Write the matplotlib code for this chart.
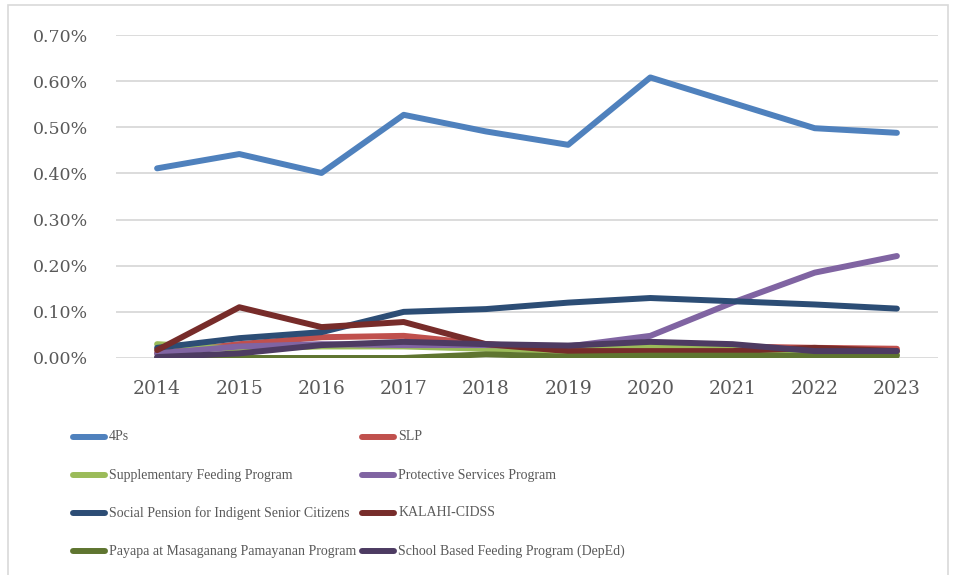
import matplotlib
matplotlib.use("Agg")
import matplotlib.pyplot as plt
from matplotlib.lines import Line2D
from matplotlib.patches import Rectangle
from matplotlib.ticker import PercentFormatter

plt.rcParams["font.family"] = ["DejaVu Serif"]

# ---- data (values in percent) ----
years = [2014, 2015, 2016, 2017, 2018, 2019, 2020, 2021, 2022, 2023]
fourps       = [0.411, 0.442, 0.401, 0.527, 0.491, 0.462, 0.608, 0.553, 0.498, 0.488]
slp          = [0.010, 0.030, 0.045, 0.048, 0.030, 0.020, 0.025, 0.025, 0.022, 0.020]
supp_feed    = [0.030, 0.020, 0.025, 0.025, 0.020, 0.015, 0.025, 0.020, 0.010, 0.008]
protective   = [0.010, 0.025, 0.030, 0.028, 0.028, 0.025, 0.048, 0.120, 0.185, 0.221]
soc_pension  = [0.022, 0.043, 0.056, 0.100, 0.106, 0.120, 0.130, 0.123, 0.116, 0.107]
kalahi       = [0.017, 0.110, 0.067, 0.078, 0.030, 0.015, 0.015, 0.015, 0.022, 0.015]
payapa       = [0.000, 0.000, 0.000, 0.000, 0.008, 0.003, 0.005, 0.005, 0.005, 0.005]
school_feed  = [0.002, 0.010, 0.028, 0.035, 0.030, 0.027, 0.035, 0.030, 0.015, 0.015]

series = [
    ("4Ps", fourps, "#4F81BD"),
    ("SLP", slp, "#C0504D"),
    ("Supplementary Feeding Program", supp_feed, "#9BBB59"),
    ("Protective Services Program", protective, "#8064A2"),
    ("Social Pension for Indigent Senior Citizens", soc_pension, "#2C4D75"),
    ("KALAHI-CIDSS", kalahi, "#772C2A"),
    ("Payapa at Masaganang Pamayanan Program", payapa, "#5F7530"),
    ("School Based Feeding Program (DepEd)", school_feed, "#4D3B62"),
]

TXT = "#595959"
W, H = 957, 575

fig = plt.figure(figsize=(W / 100, H / 100), dpi=100)
ax = fig.add_axes([116 / W, 1 - 358 / H, 822 / W, 323 / H])

x = list(range(len(years)))
for name, vals, col in series:
    ax.plot(x, vals, color=col, lw=4.3, solid_capstyle="round",
            solid_joinstyle="round", label=name)

ax.set_xlim(-0.5, len(years) - 0.5)
ax.set_ylim(0, 0.70)
ax.set_yticks([i / 10 for i in range(8)])
ax.yaxis.set_major_formatter(PercentFormatter(decimals=2))
ax.set_xticks(x)
ax.set_xticklabels([str(y) for y in years])
ax.grid(axis="y", color="#D9D9D9", lw=1.3)
ax.set_axisbelow(True)
for s in ax.spines.values():
    s.set_visible(False)
ax.tick_params(axis="both", length=0, colors=TXT, labelsize=12.5)
ax.tick_params(axis="x", labelsize=13.5, pad=16)
ax.tick_params(axis="y", pad=20)

# legend: two columns filled row-wise; first column placed, then the second
# column starts just after the widest first-column label
renderer = fig.canvas.get_renderer()
HL = 32  # handle length, px


def legend_entry(x0, row, name, col):
    y = 1 - (437 + 38 * row) / H
    fig.add_artist(Line2D([x0 / W, (x0 + HL) / W], [y, y], color=col, lw=4.3,
                          solid_capstyle="round", transform=fig.transFigure))
    return fig.text((x0 + HL + 4) / W, y, name, color=TXT, ha="left",
                    va="center", family="Liberation Serif", fontsize=10)


left = [legend_entry(73, i // 2, n, c)
        for i, (n, v, c) in enumerate(series) if i % 2 == 0]
widest = max(t.get_window_extent(renderer).width for t in left)
x2 = max(325, 73 + HL + 4 + widest + 6)
for i, (n, v, c) in enumerate(series):
    if i % 2 == 1:
        legend_entry(x2, i // 2, n, c)

fig.patches.append(Rectangle((8 / W, -0.01), 940 / W, 1 - 5 / H + 0.01,
                             transform=fig.transFigure, fill=False,
                             edgecolor="#D9D9D9", lw=1.2))

fig.savefig("out.png", dpi=100)
